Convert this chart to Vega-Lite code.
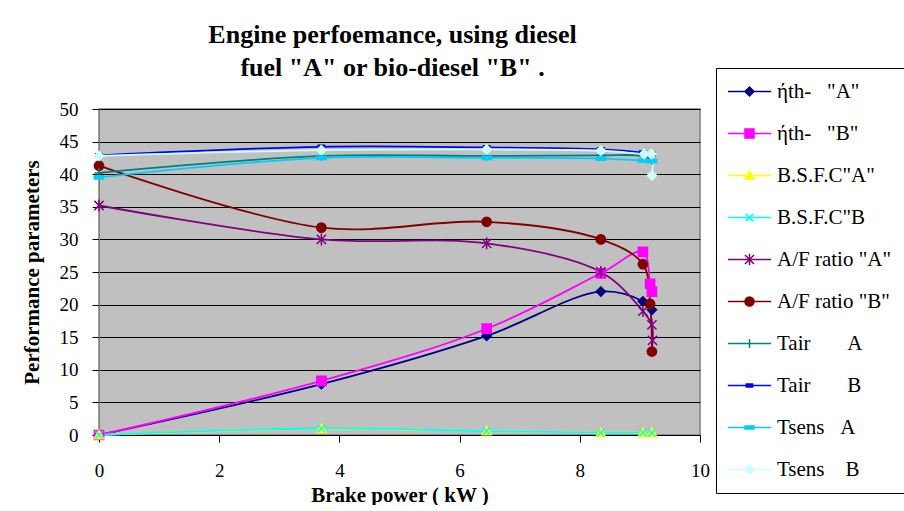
{
  "$schema": "https://vega.github.io/schema/vega-lite/v6.json",
  "width": 601,
  "height": 326,
  "padding": {"left": 21, "top": 21, "right": 0, "bottom": 0},
  "background": "white",
  "title": {
    "text": ["Engine perfoemance, using diesel", "fuel \"A\" or bio-diesel \"B\" ."],
    "font": "Liberation Serif",
    "fontSize": 26,
    "fontWeight": "bold",
    "lineHeight": 33,
    "color": "black",
    "anchor": "middle",
    "dx": -7,
    "offset": -13
  },
  "config": {
    "view": {"fill": "#C0C0C0", "stroke": "#808080", "strokeWidth": 1.5},
    "font": "Liberation Serif"
  },
  "data": {
    "values": [
      {"series": "ήth-\u00a0\u00a0\u00a0\"A\"", "power": 0, "value": 0},
      {"series": "ήth-\u00a0\u00a0\u00a0\"A\"", "power": 3.7, "value": 7.8},
      {"series": "ήth-\u00a0\u00a0\u00a0\"A\"", "power": 6.45, "value": 15.2},
      {"series": "ήth-\u00a0\u00a0\u00a0\"A\"", "power": 8.35, "value": 22.0},
      {"series": "ήth-\u00a0\u00a0\u00a0\"A\"", "power": 9.05, "value": 20.5},
      {"series": "ήth-\u00a0\u00a0\u00a0\"A\"", "power": 9.2, "value": 19.2},

      {"series": "ήth-\u00a0\u00a0\u00a0\"B\"", "power": 0, "value": 0},
      {"series": "ήth-\u00a0\u00a0\u00a0\"B\"", "power": 3.7, "value": 8.3},
      {"series": "ήth-\u00a0\u00a0\u00a0\"B\"", "power": 6.45, "value": 16.3},
      {"series": "ήth-\u00a0\u00a0\u00a0\"B\"", "power": 8.35, "value": 24.8},
      {"series": "ήth-\u00a0\u00a0\u00a0\"B\"", "power": 9.05, "value": 28.1},
      {"series": "ήth-\u00a0\u00a0\u00a0\"B\"", "power": 9.17, "value": 23.2},
      {"series": "ήth-\u00a0\u00a0\u00a0\"B\"", "power": 9.2, "value": 22.0},

      {"series": "B.S.F.C\"A\"", "power": 0, "value": 0},
      {"series": "B.S.F.C\"A\"", "power": 3.7, "value": 0.95},
      {"series": "B.S.F.C\"A\"", "power": 6.45, "value": 0.6},
      {"series": "B.S.F.C\"A\"", "power": 8.35, "value": 0.35},
      {"series": "B.S.F.C\"A\"", "power": 9.05, "value": 0.35},
      {"series": "B.S.F.C\"A\"", "power": 9.2, "value": 0.35},

      {"series": "B.S.F.C\"B", "power": 0, "value": 0},
      {"series": "B.S.F.C\"B", "power": 3.7, "value": 1.0},
      {"series": "B.S.F.C\"B", "power": 6.45, "value": 0.6},
      {"series": "B.S.F.C\"B", "power": 8.35, "value": 0.35},
      {"series": "B.S.F.C\"B", "power": 9.05, "value": 0.35},
      {"series": "B.S.F.C\"B", "power": 9.2, "value": 0.35},

      {"series": "A/F ratio \"A\"", "power": 0, "value": 35.2},
      {"series": "A/F ratio \"A\"", "power": 3.7, "value": 30.0},
      {"series": "A/F ratio \"A\"", "power": 6.45, "value": 29.4},
      {"series": "A/F ratio \"A\"", "power": 8.35, "value": 25.0},
      {"series": "A/F ratio \"A\"", "power": 9.05, "value": 19.0},
      {"series": "A/F ratio \"A\"", "power": 9.2, "value": 16.9},
      {"series": "A/F ratio \"A\"", "power": 9.21, "value": 14.5},

      {"series": "A/F ratio \"B\"", "power": 0, "value": 41.3},
      {"series": "A/F ratio \"B\"", "power": 3.7, "value": 31.8},
      {"series": "A/F ratio \"B\"", "power": 6.45, "value": 32.7},
      {"series": "A/F ratio \"B\"", "power": 8.35, "value": 30.0},
      {"series": "A/F ratio \"B\"", "power": 9.05, "value": 26.2},
      {"series": "A/F ratio \"B\"", "power": 9.17, "value": 20.1},
      {"series": "A/F ratio \"B\"", "power": 9.2, "value": 12.8},

      {"series": "Tair\u00a0\u00a0\u00a0\u00a0\u00a0\u00a0\u00a0A", "power": 0, "value": 40.2},
      {"series": "Tair\u00a0\u00a0\u00a0\u00a0\u00a0\u00a0\u00a0A", "power": 3.7, "value": 42.8},
      {"series": "Tair\u00a0\u00a0\u00a0\u00a0\u00a0\u00a0\u00a0A", "power": 6.45, "value": 42.8},
      {"series": "Tair\u00a0\u00a0\u00a0\u00a0\u00a0\u00a0\u00a0A", "power": 8.35, "value": 42.9},
      {"series": "Tair\u00a0\u00a0\u00a0\u00a0\u00a0\u00a0\u00a0A", "power": 9.05, "value": 42.8},
      {"series": "Tair\u00a0\u00a0\u00a0\u00a0\u00a0\u00a0\u00a0A", "power": 9.2, "value": 42.2},

      {"series": "Tair\u00a0\u00a0\u00a0\u00a0\u00a0\u00a0\u00a0B", "power": 0, "value": 42.9},
      {"series": "Tair\u00a0\u00a0\u00a0\u00a0\u00a0\u00a0\u00a0B", "power": 3.7, "value": 44.2},
      {"series": "Tair\u00a0\u00a0\u00a0\u00a0\u00a0\u00a0\u00a0B", "power": 6.45, "value": 44.1},
      {"series": "Tair\u00a0\u00a0\u00a0\u00a0\u00a0\u00a0\u00a0B", "power": 8.35, "value": 43.8},
      {"series": "Tair\u00a0\u00a0\u00a0\u00a0\u00a0\u00a0\u00a0B", "power": 9.05, "value": 43.3},
      {"series": "Tair\u00a0\u00a0\u00a0\u00a0\u00a0\u00a0\u00a0B", "power": 9.2, "value": 43.1},

      {"series": "Tsens\u00a0\u00a0\u00a0A", "power": 0, "value": 39.5},
      {"series": "Tsens\u00a0\u00a0\u00a0A", "power": 3.7, "value": 42.5},
      {"series": "Tsens\u00a0\u00a0\u00a0A", "power": 6.45, "value": 42.5},
      {"series": "Tsens\u00a0\u00a0\u00a0A", "power": 8.35, "value": 42.4},
      {"series": "Tsens\u00a0\u00a0\u00a0A", "power": 9.05, "value": 42.1},
      {"series": "Tsens\u00a0\u00a0\u00a0A", "power": 9.2, "value": 42.0},

      {"series": "Tsens\u00a0\u00a0\u00a0\u00a0B", "power": 0, "value": 42.8},
      {"series": "Tsens\u00a0\u00a0\u00a0\u00a0B", "power": 3.7, "value": 43.7},
      {"series": "Tsens\u00a0\u00a0\u00a0\u00a0B", "power": 6.45, "value": 43.8},
      {"series": "Tsens\u00a0\u00a0\u00a0\u00a0B", "power": 8.35, "value": 43.6},
      {"series": "Tsens\u00a0\u00a0\u00a0\u00a0B", "power": 9.07, "value": 43.1},
      {"series": "Tsens\u00a0\u00a0\u00a0\u00a0B", "power": 9.19, "value": 43.1},
      {"series": "Tsens\u00a0\u00a0\u00a0\u00a0B", "power": 9.2, "value": 39.8}
    ]
  },
  "encoding": {
    "x": {
      "field": "power",
      "type": "quantitative",
      "scale": {"domain": [0, 10], "nice": false, "zero": false},
      "axis": {
        "values": [0, 2, 4, 6, 8, 10],
        "grid": false,
        "title": "Brake power ( kW )",
        "titleFont": "Liberation Serif",
        "titleFontSize": 21,
        "titleFontWeight": "bold",
        "titleColor": "black",
        "titlePadding": 4,
        "labelFont": "Liberation Serif",
        "labelFontSize": 19,
        "labelColor": "black",
        "labelPadding": 19,
        "tickSize": 7,
        "tickColor": "black",
        "domainColor": "black",
        "labelFlush": false
      }
    },
    "y": {
      "field": "value",
      "type": "quantitative",
      "scale": {"domain": [0, 50], "nice": false},
      "axis": {
        "values": [0, 5, 10, 15, 20, 25, 30, 35, 40, 45, 50],
        "grid": true,
        "gridColor": "black",
        "gridOpacity": 1,
        "gridWidth": 1,
        "title": "Performance parameters",
        "titleFont": "Liberation Serif",
        "titleFontSize": 21,
        "titleFontWeight": "bold",
        "titleColor": "black",
        "titlePadding": 17,
        "labelFont": "Liberation Serif",
        "labelFontSize": 19,
        "labelColor": "black",
        "labelPadding": 14,
        "tickSize": 7,
        "tickColor": "black",
        "domainColor": "#808080",
        "labelFlush": false
      }
    }
  },
  "layer": [
    {
      "mark": {"type": "line", "interpolate": "catmull-rom", "strokeWidth": 1.8},
      "encoding": {
        "color": {
          "field": "series",
          "type": "nominal",
          "scale": {
            "domain": ["ήth-\u00a0\u00a0\u00a0\"A\"", "ήth-\u00a0\u00a0\u00a0\"B\"", "B.S.F.C\"A\"", "B.S.F.C\"B", "A/F ratio \"A\"", "A/F ratio \"B\"", "Tair\u00a0\u00a0\u00a0\u00a0\u00a0\u00a0\u00a0A", "Tair\u00a0\u00a0\u00a0\u00a0\u00a0\u00a0\u00a0B", "Tsens\u00a0\u00a0\u00a0A", "Tsens\u00a0\u00a0\u00a0\u00a0B"],
            "range": ["#000080", "#FF00FF", "#FFFF00", "#00FFFF", "#800080", "#800000", "#008080", "#0000FF", "#00CCFF", "#CCFFFF"]
          },
          "legend": {
            "orient": "none",
            "legendX": 617,
            "legendY": -41,
            "title": null,
            "padding": 13,
            "rowPadding": 20,
            "labelFont": "Liberation Serif",
            "labelFontSize": 21,
            "labelColor": "black",
            "labelLimit": 300,
            "symbolSize": 81,
            "symbolOffset": 10,
            "labelOffset": 17,
            "symbolOpacity": 1,
            "symbolStrokeWidth": 1.5,
            "symbolType": {"expr": "scale('shape', datum.value) + 'M-4.8,0H4.8'"},
            "symbolStrokeColor": {"expr": "scale('color', datum.value)"},
            "fillColor": "white",
            "strokeColor": "black"
          }
        }
      }
    },
    {
      "mark": {"type": "point", "filled": true, "size": 85, "opacity": 1, "strokeWidth": 1.5},
      "encoding": {
        "color": {"field": "series", "type": "nominal"},
        "shape": {
          "field": "series",
          "type": "nominal",
          "legend": null,
          "scale": {
            "domain": ["A/F ratio \"A\"", "A/F ratio \"B\"", "B.S.F.C\"A\"", "B.S.F.C\"B", "Tair\u00a0\u00a0\u00a0\u00a0\u00a0\u00a0\u00a0A", "Tair\u00a0\u00a0\u00a0\u00a0\u00a0\u00a0\u00a0B", "Tsens\u00a0\u00a0\u00a0A", "Tsens\u00a0\u00a0\u00a0\u00a0B", "ήth-\u00a0\u00a0\u00a0\"A\"", "ήth-\u00a0\u00a0\u00a0\"B\""],
            "range": [
              "M-1,-1L1,1M-1,1L1,-1M0,-1.3V1.3",
              "M1,0A1,1,0,1,1,-1,0A1,1,0,1,1,1,0Z",
              "M0,-1L1,0.8H-1Z",
              "M-0.8,-0.8L0.8,0.8M-0.8,0.8L0.8,-0.8",
              "M-1,0H1M0,-1V1",
              "M-0.7,-0.35H0.7V0.35H-0.7Z",
              "M-1,-0.35H1V0.35H-1Z",
              "M0,-1L1,0L0,1L-1,0Z",
              "M0,-1L1,0L0,1L-1,0Z",
              "M-1,-1H1V1H-1Z"
            ]
          }
        },
        "stroke": {
          "field": "series",
          "type": "nominal",
          "scale": {
            "domain": ["ήth-\u00a0\u00a0\u00a0\"A\"", "ήth-\u00a0\u00a0\u00a0\"B\"", "B.S.F.C\"A\"", "B.S.F.C\"B", "A/F ratio \"A\"", "A/F ratio \"B\"", "Tair\u00a0\u00a0\u00a0\u00a0\u00a0\u00a0\u00a0A", "Tair\u00a0\u00a0\u00a0\u00a0\u00a0\u00a0\u00a0B", "Tsens\u00a0\u00a0\u00a0A", "Tsens\u00a0\u00a0\u00a0\u00a0B"],
            "range": ["#000080", "#FF00FF", "#FFFF00", "#00FFFF", "#800080", "#800000", "#008080", "#0000FF", "#00CCFF", "#CCFFFF"]
          },
          "legend": null
        }
      }
    }
  ]
}
